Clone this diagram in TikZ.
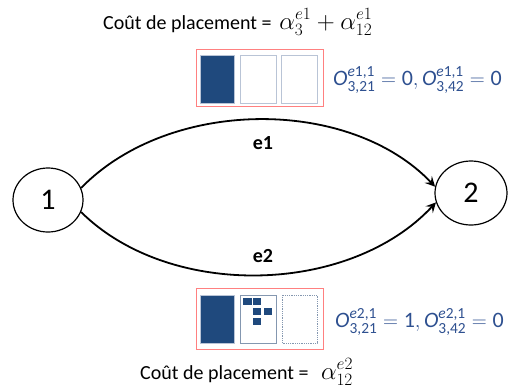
\documentclass[tikz,border=0pt]{standalone}
\usepackage{amsmath}
\usepackage{fontspec}
\setmainfont{Carlito}
\usetikzlibrary{shapes.geometric,arrows.meta}
\definecolor{darkfill}{RGB}{31,73,125}
\definecolor{lightedge}{RGB}{185,196,214}
\definecolor{midedge}{RGB}{132,151,176}
\definecolor{redbox}{RGB}{255,128,128}
\definecolor{formula}{RGB}{46,80,144}
\newcommand{\ovar}[2]{\textit{O}^{\textit{e}\text{#1}}_{\text{#2}}}
\newcommand{\bigmath}[1]{{\fontsize{23}{27}\selectfont$#1$}}
\tikzset{
  vertex/.style={draw,line width=1.2pt,ellipse,minimum width=70pt,minimum height=64pt,inner sep=0pt,font=\fontsize{30}{34}\selectfont},
  edge/.style={line width=1.8pt,-{Stealth[length=10pt,width=10pt,inset=4pt]}},
  edgelabel/.style={font=\bfseries\fontsize{20}{24}\selectfont},
  frame/.style={draw=redbox,line width=1pt},
  filled/.style={fill=darkfill,draw=lightedge,line width=0.6pt},
  empty/.style={fill=white,draw=lightedge,line width=0.8pt},
  emptymid/.style={fill=white,draw=midedge,line width=0.8pt},
  emptydot/.style={fill=white,draw=midedge,line width=0.8pt,densely dotted},
  tiny/.style={fill=darkfill,draw=none},
  cost/.style={anchor=west,inner sep=0pt,font=\fontsize{20}{24}\selectfont},
  ocond/.style={anchor=west,inner sep=0pt,text=formula,font=\fontsize{22}{26}\selectfont},
}
\begin{document}
\begin{tikzpicture}[x=1pt,y=-1pt]
\useasboundingbox (0,0) rectangle (517,389);
\node[vertex] (n1) at (48,200) {1};
\node[vertex,minimum width=72pt] (n2) at (471,193) {2};
\draw[edge] (n1.20) .. controls (170,97) and (350,97) .. (n2.170);
\draw[edge] (n1.-20) .. controls (170,300) and (350,295) .. (n2.195);
\node[edgelabel] (l1) at (263,143) {e1};
\node[edgelabel] (l2) at (263,256) {e2};
% top configuration
\draw[frame] (196,49) rectangle (323,106);
\draw[filled] (200,55) rectangle (234,103);
\draw[empty] (240,55) rectangle (276,103);
\draw[empty] (281,55) rectangle (317,103);
% bottom configuration
\draw[frame] (196,288) rectangle (323,349);
\draw[filled] (200,295) rectangle (234,343);
\draw[emptymid] (240,295) rectangle (276,343);
\fill[tiny] (243,298) rectangle (252,305);
\fill[tiny] (253,298) rectangle (261,305);
\fill[tiny] (253,308) rectangle (261,315);
\fill[tiny] (264,308) rectangle (272,315);
\fill[tiny] (253,318) rectangle (261,325);
\draw[emptydot] (282,295) rectangle (317,343);
% texts
\node[cost] (c1) at (103,22) {Coût de placement = \,\bigmath{\alpha_3^{e1}+\alpha_{12}^{e1}}};
\node[cost] (c2) at (140,372) {Coût de placement = \ \,\bigmath{\alpha_{12}^{e2}}};
\node[ocond] (o1) at (333,80) {$\ovar{1,1}{3,21}=\text{0},\ovar{1,1}{3,42}=\text{0}$};
\node[ocond] (o2) at (335,322) {$\ovar{2,1}{3,21}=\text{1},\ovar{2,1}{3,42}=\text{0}$};
\end{tikzpicture}
\end{document}
